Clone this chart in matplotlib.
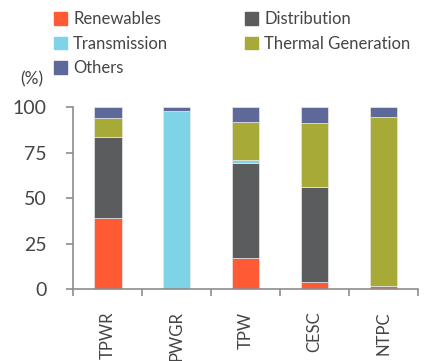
import numpy as np
import matplotlib.pyplot as plt
from matplotlib.patches import Patch

plt.rcParams['font.family'] = ['Lato', 'DejaVu Sans']
plt.rcParams['font.weight'] = 'normal'

companies = ["TPWR", "PWGR", "TPW", "CESC", "NTPC"]
renewables = [39.3, 0.0, 17.4, 4.0, 1.6]
distribution = [44.4, 0.0, 52.1, 52.3, 0.0]
transmission = [0.0, 98.0, 1.4, 0.0, 0.0]
thermal = [10.3, 0.0, 20.9, 34.7, 92.9]
others = [6.0, 2.0, 8.2, 9.0, 5.5]

series = [
    ("Renewables", renewables, "#ff5a33"),
    ("Distribution", distribution, "#5b5c5e"),
    ("Transmission", transmission, "#7fd3e6"),
    ("Thermal Generation", thermal, "#a8aa37"),
    ("Others", others, "#5e6899"),
]

txt = "#454545"
axc = "#8c8c8c"

fig = plt.figure(figsize=(4.3, 3.61), dpi=100)
ax = fig.add_axes([0.1705, 0.1986, 0.8015, 0.505])

x = np.arange(len(companies))
bottom = np.zeros(len(companies))
for name, vals, col in series:
    ax.bar(x, vals, 0.4, bottom=bottom, color=col, edgecolor="#e8e8e8", linewidth=0.5)
    bottom += np.array(vals)

ax.set_xlim(-0.5, len(companies) - 0.5)
ax.set_ylim(0, 100)
ax.set_yticks([0, 25, 50, 75, 100])
ax.set_xticks(x)
ax.set_xticklabels(companies, rotation=90, fontsize=12, color=txt)
ax.tick_params(axis="x", length=0, pad=16)
ax.set_xticks(np.arange(len(companies) + 1) - 0.5, minor=True)
ax.tick_params(axis="x", which="minor", length=5, width=1.2, color=axc)
ax.tick_params(axis="y", length=5, width=1.2, color=axc, labelsize=14, labelcolor=txt, pad=14)

for s in ["top", "right"]:
    ax.spines[s].set_visible(False)
for s in ["left", "bottom"]:
    ax.spines[s].set_color(axc)
    ax.spines[s].set_linewidth(1.2)

fig.text(0.047, 0.78, "(%)", fontsize=12.5, color=txt, ha="left", va="center")

# legend fills by column, so reorder to get the row layout
order = [0, 2, 4, 1, 3]
handles = [Patch(color=series[i][2], label=series[i][0]) for i in order]
fig.legend(handles=handles, ncol=2, loc="upper left", bbox_to_anchor=(0.09, 1.01),
           frameon=False, fontsize=12, handlelength=0.78, handleheight=0.78,
           handletextpad=0.38, columnspacing=4.6, labelspacing=0.5,
           labelcolor=txt)

fig.savefig("out.png", dpi=100)
